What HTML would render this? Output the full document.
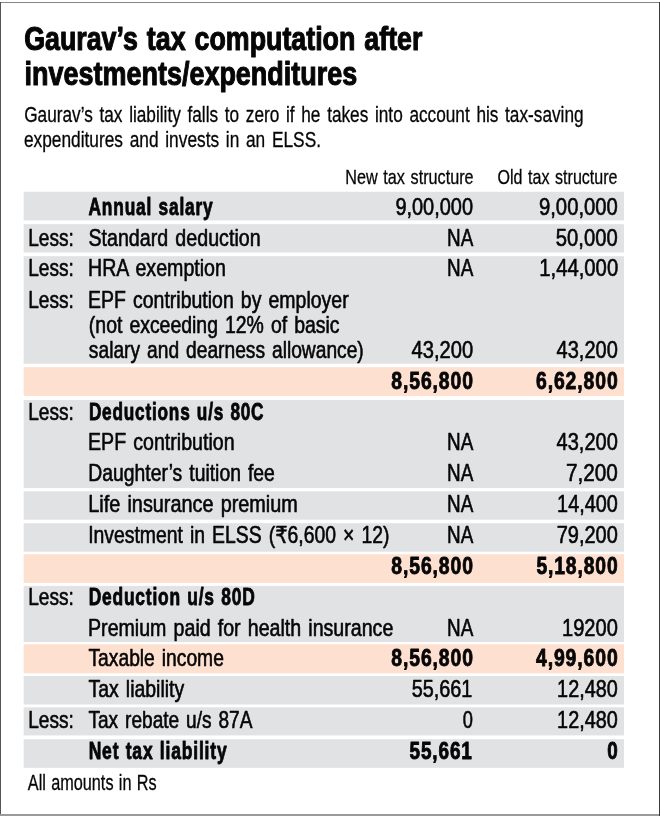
<!DOCTYPE html>
<html lang="en">
<head>
<meta charset="utf-8">
<title>Gaurav’s tax computation after investments/expenditures</title>
<style>
html,body{margin:0;padding:0;background:#fff;}
body{width:660px;height:816px;overflow:hidden;position:relative;font-family:"Liberation Sans",sans-serif;}
#card{position:absolute;left:0;top:0;width:660px;height:816px;}
.bd{position:absolute;}
svg{position:absolute;left:0;top:0;}
text{font-family:"Liberation Sans",sans-serif;fill:#060606;stroke:#060606;stroke-width:.6px;stroke-linejoin:round;}
.b{font-weight:700;}
.t{stroke-width:1.1px;word-spacing:2px;}
.s{stroke-width:.3px;word-spacing:2.4px;}
.h{stroke-width:.3px;word-spacing:1.5px;}
.f{stroke-width:.3px;word-spacing:1px;}
.r{stroke-width:.6px;word-spacing:2px;}
.b.r{stroke-width:.85px;letter-spacing:1.1px;word-spacing:1px;}
.rs{font-family:"DejaVu Sans",sans-serif;}
</style>
</head>
<body>
<div id="card">
<div class="bd" style="left:0;top:2px;width:660px;height:1px;background:#858585"></div>
<div class="bd" style="left:0;top:814px;width:660px;height:2px;background:#9a9a9a"></div>
<div class="bd" style="left:0;top:2px;width:1px;height:812px;background:#555"></div>
<div class="bd" style="left:659px;top:2px;width:1px;height:814px;background:#3c3c3c"></div>
<svg width="660" height="816" viewBox="0 0 660 816">
<g class="bands">
<rect x="23.64" y="191.8" width="600.36" height="28.6" fill="#e1e2e4"/>
<rect x="23.64" y="224.2" width="600.36" height="28.3" fill="#e1e2e4"/>
<rect x="23.64" y="256.2" width="600.36" height="107.5" fill="#e1e2e4"/>
<rect x="23.64" y="367.2" width="600.36" height="28.8" fill="#fee0d1"/>
<rect x="23.64" y="400" width="600.36" height="88.1" fill="#e1e2e4"/>
<rect x="23.64" y="491.3" width="600.36" height="28.4" fill="#e1e2e4"/>
<rect x="23.64" y="523.2" width="600.36" height="28.5" fill="#e1e2e4"/>
<rect x="23.64" y="554.2" width="600.36" height="28.7" fill="#fee0d1"/>
<rect x="23.64" y="585.9" width="600.36" height="56.2" fill="#e1e2e4"/>
<rect x="23.64" y="644.2" width="600.36" height="29.1" fill="#fee0d1"/>
<rect x="23.64" y="676" width="600.36" height="28.5" fill="#e1e2e4"/>
<rect x="23.64" y="707.3" width="600.36" height="28.1" fill="#e1e2e4"/>
<rect x="23.64" y="739.2" width="600.36" height="28.6" fill="#e1e2e4"/>
</g>
<text id="t1" class="b t" x="24.17" y="50.40" font-size="33.5" textLength="398.24" lengthAdjust="spacingAndGlyphs">Gaurav’s tax computation after</text>
<text id="t2" class="b t" x="24.51" y="84.60" font-size="33.5" textLength="332.76" lengthAdjust="spacingAndGlyphs">investments/expenditures</text>
<text id="s1" class="s" x="24.22" y="122.00" font-size="21.8" textLength="559.34" lengthAdjust="spacingAndGlyphs">Gaurav’s tax liability falls to zero if he takes into account his tax-saving</text>
<text id="s2" class="s" x="23.91" y="146.90" font-size="21.8" textLength="297.11" lengthAdjust="spacingAndGlyphs">expenditures and invests in an ELSS.</text>
<text id="h1" class="h" x="345.29" y="184.00" font-size="20.8" textLength="128.33" lengthAdjust="spacingAndGlyphs">New tax structure</text>
<text id="h2" class="h" x="497.48" y="184.00" font-size="20.8" textLength="120.00" lengthAdjust="spacingAndGlyphs">Old tax structure</text>
<text id="r1a" class="b r" x="88.56" y="215.06" font-size="23.6" textLength="124.90" lengthAdjust="spacingAndGlyphs">Annual salary</text>
<text id="r1b" class="r" x="395.38" y="215.06" font-size="23.2" textLength="77.63" lengthAdjust="spacingAndGlyphs">9,00,000</text>
<text id="r1c" class="r" x="538.98" y="215.06" font-size="23.2" textLength="78.90" lengthAdjust="spacingAndGlyphs">9,00,000</text>
<text id="r2l" class="r" x="28.24" y="245.88" font-size="23.2" textLength="45.61" lengthAdjust="spacingAndGlyphs">Less:</text>
<text id="r2a" class="r" x="88.41" y="245.88" font-size="23.2" textLength="172.24" lengthAdjust="spacingAndGlyphs">Standard deduction</text>
<text id="r2b" class="r" x="447.11" y="245.88" font-size="23.2" textLength="26.24" lengthAdjust="spacingAndGlyphs">NA</text>
<text id="r2c" class="r" x="555.81" y="245.88" font-size="23.2" textLength="61.88" lengthAdjust="spacingAndGlyphs">50,000</text>
<text id="r3l" class="r" x="28.24" y="276.40" font-size="23.2" textLength="45.61" lengthAdjust="spacingAndGlyphs">Less:</text>
<text id="r3a" class="r" x="88.03" y="276.40" font-size="23.2" textLength="137.88" lengthAdjust="spacingAndGlyphs">HRA exemption</text>
<text id="r3b" class="r" x="447.11" y="276.40" font-size="23.2" textLength="26.24" lengthAdjust="spacingAndGlyphs">NA</text>
<text id="r3c" class="r" x="539.29" y="276.40" font-size="23.2" textLength="78.87" lengthAdjust="spacingAndGlyphs">1,44,000</text>
<text id="r4l" class="r" x="28.24" y="307.52" font-size="23.2" textLength="45.61" lengthAdjust="spacingAndGlyphs">Less:</text>
<text id="r4a" class="r" x="88.07" y="307.52" font-size="23.2" textLength="260.55" lengthAdjust="spacingAndGlyphs">EPF contribution by employer</text>
<text id="r5a" class="r" x="88.86" y="333.20" font-size="23.2" textLength="250.69" lengthAdjust="spacingAndGlyphs">(not exceeding 12% of basic</text>
<text id="r6a" class="r" x="88.87" y="358.20" font-size="23.2" textLength="274.88" lengthAdjust="spacingAndGlyphs">salary and dearness allowance)</text>
<text id="r6b" class="r" x="411.58" y="358.20" font-size="23.2" textLength="61.55" lengthAdjust="spacingAndGlyphs">43,200</text>
<text id="r6c" class="r" x="556.57" y="358.20" font-size="23.2" textLength="61.22" lengthAdjust="spacingAndGlyphs">43,200</text>
<text id="r7b" class="b r" x="391.34" y="389.00" font-size="23.6" textLength="82.53" lengthAdjust="spacingAndGlyphs">8,56,800</text>
<text id="r7c" class="b r" x="535.97" y="389.00" font-size="23.6" textLength="82.64" lengthAdjust="spacingAndGlyphs">6,62,800</text>
<text id="r8l" class="r" x="28.24" y="419.80" font-size="23.2" textLength="45.61" lengthAdjust="spacingAndGlyphs">Less:</text>
<text id="r8a" class="b r" x="88.90" y="419.80" font-size="23.6" textLength="175.44" lengthAdjust="spacingAndGlyphs">Deductions u/s 80C</text>
<text id="r9a" class="r" x="88.03" y="450.30" font-size="23.2" textLength="146.56" lengthAdjust="spacingAndGlyphs">EPF contribution</text>
<text id="r9b" class="r" x="447.11" y="450.30" font-size="23.2" textLength="26.24" lengthAdjust="spacingAndGlyphs">NA</text>
<text id="r9c" class="r" x="556.57" y="450.30" font-size="23.2" textLength="61.22" lengthAdjust="spacingAndGlyphs">43,200</text>
<text id="r10a" class="r" x="88.33" y="481.40" font-size="23.2" textLength="186.56" lengthAdjust="spacingAndGlyphs">Daughter’s tuition fee</text>
<text id="r10b" class="r" x="447.11" y="481.40" font-size="23.2" textLength="26.24" lengthAdjust="spacingAndGlyphs">NA</text>
<text id="r10c" class="r" x="565.88" y="481.40" font-size="23.2" textLength="51.90" lengthAdjust="spacingAndGlyphs">7,200</text>
<text id="r11a" class="r" x="88.27" y="512.20" font-size="23.2" textLength="209.51" lengthAdjust="spacingAndGlyphs">Life insurance premium</text>
<text id="r11b" class="r" x="447.11" y="512.20" font-size="23.2" textLength="26.24" lengthAdjust="spacingAndGlyphs">NA</text>
<text id="r11c" class="r" x="557.11" y="512.20" font-size="23.2" textLength="60.64" lengthAdjust="spacingAndGlyphs">14,400</text>
<text id="r12a" class="r" x="88.13" y="543.00" font-size="23.2" textLength="301.30" lengthAdjust="spacingAndGlyphs">Investment in ELSS (<tspan class="rs">₹</tspan>6,600 × 12)</text>
<text id="r12b" class="r" x="447.11" y="543.00" font-size="23.2" textLength="26.24" lengthAdjust="spacingAndGlyphs">NA</text>
<text id="r12c" class="r" x="556.66" y="543.00" font-size="23.2" textLength="61.10" lengthAdjust="spacingAndGlyphs">79,200</text>
<text id="r13b" class="b r" x="391.34" y="573.80" font-size="23.6" textLength="82.53" lengthAdjust="spacingAndGlyphs">8,56,800</text>
<text id="r13c" class="b r" x="536.38" y="573.80" font-size="23.6" textLength="82.22" lengthAdjust="spacingAndGlyphs">5,18,800</text>
<text id="r14l" class="r" x="28.24" y="604.60" font-size="23.2" textLength="45.61" lengthAdjust="spacingAndGlyphs">Less:</text>
<text id="r14a" class="b r" x="88.68" y="604.60" font-size="23.6" textLength="166.84" lengthAdjust="spacingAndGlyphs">Deduction u/s 80D</text>
<text id="r15a" class="r" x="88.04" y="636.10" font-size="23.2" textLength="305.27" lengthAdjust="spacingAndGlyphs">Premium paid for health insurance</text>
<text id="r15b" class="r" x="447.11" y="636.10" font-size="23.2" textLength="26.24" lengthAdjust="spacingAndGlyphs">NA</text>
<text id="r15c" class="r" x="562.03" y="636.10" font-size="23.2" textLength="55.77" lengthAdjust="spacingAndGlyphs">19200</text>
<text id="r16a" class="r" x="88.49" y="666.20" font-size="23.2" textLength="135.36" lengthAdjust="spacingAndGlyphs">Taxable income</text>
<text id="r16b" class="b r" x="391.34" y="666.20" font-size="23.6" textLength="82.53" lengthAdjust="spacingAndGlyphs">8,56,800</text>
<text id="r16c" class="b r" x="535.95" y="666.20" font-size="23.6" textLength="82.76" lengthAdjust="spacingAndGlyphs">4,99,600</text>
<text id="r17a" class="r" x="88.49" y="697.00" font-size="23.2" textLength="95.71" lengthAdjust="spacingAndGlyphs">Tax liability</text>
<text id="r17b" class="r" x="411.72" y="697.00" font-size="23.2" textLength="60.68" lengthAdjust="spacingAndGlyphs">55,661</text>
<text id="r17c" class="r" x="557.11" y="697.00" font-size="23.2" textLength="60.64" lengthAdjust="spacingAndGlyphs">12,480</text>
<text id="r18l" class="r" x="28.24" y="727.80" font-size="23.2" textLength="45.61" lengthAdjust="spacingAndGlyphs">Less:</text>
<text id="r18a" class="r" x="88.49" y="727.80" font-size="23.2" textLength="163.89" lengthAdjust="spacingAndGlyphs">Tax rebate u/s 87A</text>
<text id="r18b" class="r" x="462.82" y="727.80" font-size="23.2" textLength="10.16" lengthAdjust="spacingAndGlyphs">0</text>
<text id="r18c" class="r" x="557.11" y="727.80" font-size="23.2" textLength="60.64" lengthAdjust="spacingAndGlyphs">12,480</text>
<text id="r19a" class="b r" x="88.67" y="758.60" font-size="23.6" textLength="138.77" lengthAdjust="spacingAndGlyphs">Net tax liability</text>
<text id="r19b" class="b r" x="409.52" y="758.60" font-size="23.6" textLength="63.28" lengthAdjust="spacingAndGlyphs">55,661</text>
<text id="r19c" class="b r" x="607.30" y="758.60" font-size="23.6" textLength="11.38" lengthAdjust="spacingAndGlyphs">0</text>
<text id="f1" class="f" x="27.79" y="789.60" font-size="21.6" textLength="128.82" lengthAdjust="spacingAndGlyphs">All amounts in Rs</text>
</svg>
</div>
</body>
</html>
